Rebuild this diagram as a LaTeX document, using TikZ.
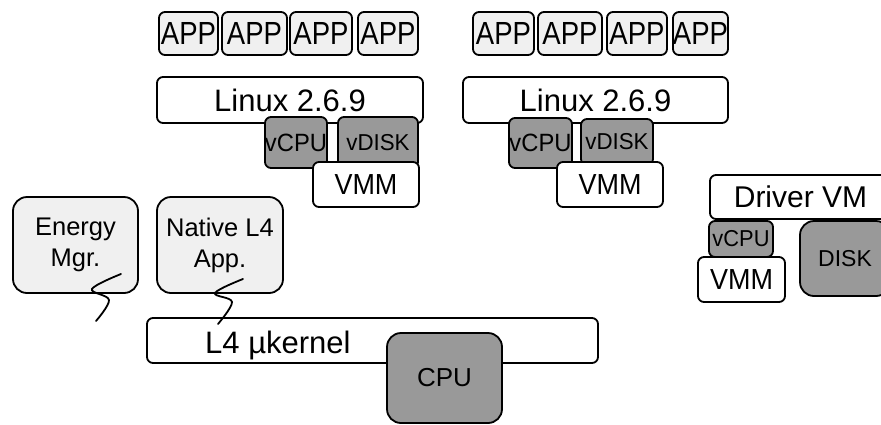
\documentclass[tikz,border=0pt]{standalone}
\usepackage{fontspec}
\setmainfont{Liberation Sans}
\definecolor{lightfill}{HTML}{F0F0F0}
\definecolor{darkfill}{HTML}{999999}
\newcommand{\zw}[2][1]{\makebox[0pt]{\scalebox{#1}[1]{#2}}}
\begin{document}
\begin{tikzpicture}[x=1pt,y=-1pt,
  box/.style={draw=black, line width=1.8pt, rounded corners=6pt, inner sep=0pt, anchor=center},
  app/.style={box, fill=lightfill, minimum height=43pt, font=\fontsize{32}{32}\selectfont},
  os/.style={box, fill=white, minimum height=46pt, font=\fontsize{31}{31}\selectfont},
  vdev/.style={box, fill=darkfill, font=\fontsize{23}{23}\selectfont},
  vmm/.style={box, fill=white, minimum height=45pt, font=\fontsize{29}{29}\selectfont},
  task/.style={box, fill=lightfill, rounded corners=14pt, minimum width=125pt, minimum height=96pt, align=center, font=\fontsize{25.5}{31}\selectfont},
  hw/.style={box, fill=darkfill, rounded corners=14pt},
  bolt/.style={line width=1.8pt, line cap=round}
]
\useasboundingbox (0,0) rectangle (881,424);
\clip (0,0) rectangle (881,424);

% Left VM
\node[app, minimum width=59pt] (a1) at (188.5,33.5) {\zw[0.86]{APP}};
\node[app, minimum width=65pt] (a2) at (254.5,33.5) {\zw[0.86]{APP}};
\node[app, minimum width=62pt] (a3) at (321,33.5) {\zw[0.86]{APP}};
\node[app, minimum width=60pt] (a4) at (388,33.5) {\zw[0.86]{APP}};
\node[os, minimum width=266pt] (lin1) at (290,100) {\zw{Linux 2.6.9}};
\node[vdev, minimum width=62pt, minimum height=51pt, font=\fontsize{25}{25}\selectfont] (vc1) at (296,142.5) {\zw[0.95]{vCPU}};
\node[vdev, minimum width=80pt, minimum height=51pt] (vd1) at (378,142.5) {\zw[0.97]{vDISK}};
\node[vmm, minimum width=106pt] (vmm1) at (366,184.5) {\zw[0.93]{VMM}};

% Right VM
\node[app, minimum width=61pt] (b1) at (503.5,33.5) {\zw[0.86]{APP}};
\node[app, minimum width=64pt] (b2) at (570,33.5) {\zw[0.86]{APP}};
\node[app, minimum width=60pt] (b3) at (637,33.5) {\zw[0.86]{APP}};
\node[app, minimum width=55pt] (b4) at (700.5,33.5) {\zw[0.86]{APP}};
\node[os, minimum width=265pt] (lin2) at (595.5,100) {\zw{Linux 2.6.9}};
\node[vdev, minimum width=63pt, minimum height=50pt, font=\fontsize{25}{25}\selectfont] (vc2) at (540.5,143) {\zw[0.95]{vCPU}};
\node[vdev, minimum width=72pt, minimum height=46pt] (vd2) at (617,142) {\zw[0.97]{vDISK}};
\node[vmm, minimum width=106pt] (vmm2) at (610,184.5) {\zw[0.93]{VMM}};

% Driver VM
\node[os, minimum width=181pt, minimum height=44pt, font=\fontsize{30}{30}\selectfont] (drv) at (800.5,197) {\zw{Driver VM}};
\node[vdev, minimum width=64pt, minimum height=36pt, font=\fontsize{23}{23}\selectfont] (vc3) at (741,239) {\zw[0.95]{vCPU}};
\node[vmm, minimum width=87pt] (vmm3) at (741.5,279.5) {\zw[0.93]{VMM}};
\node[hw, minimum width=90pt, minimum height=75pt, font=\fontsize{23}{23}\selectfont] (disk) at (845,258.5) {DISK};

% Native tasks
\node[task] (energy) at (75.5,245) {Energy\\Mgr.};
\node[task, minimum width=126pt] (native) at (220,245) {Native L4\\App.};

% Kernel and CPU
\node[os, minimum width=451pt, minimum height=45pt] (l4) at (372.5,340.5) {};
\node[anchor=base west, inner sep=0pt, font=\fontsize{31}{31}\selectfont] (l4txt) at (205,353) {L4 µkernel};
\node[hw, minimum width=115pt, minimum height=90pt, font=\fontsize{26}{26}\selectfont] (cpu) at (444.5,378) {CPU};

% Squiggles
\draw[bolt] plot[smooth, tension=0.6] coordinates {(121,274) (92,289) (109,300) (96,321)};
\draw[bolt] plot[smooth, tension=0.6] coordinates {(243,279) (215,293) (232,302) (218,324)};
\end{tikzpicture}
\end{document}
